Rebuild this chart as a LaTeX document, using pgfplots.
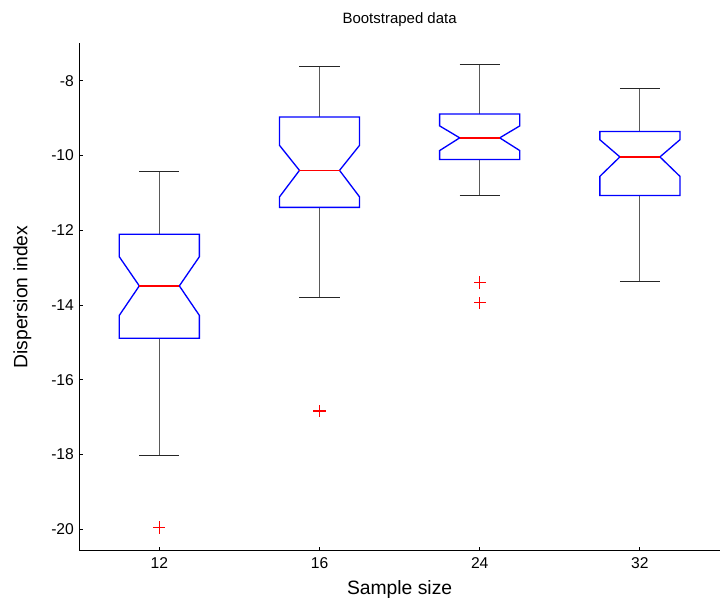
\documentclass[border=0pt]{standalone}
\usepackage{fontspec}
\setmainfont{Liberation Sans}
\usepackage{pgfplots}
\pgfplotsset{compat=1.18}
\definecolor{boxBlue}{RGB}{0,0,255}
\definecolor{medRed}{RGB}{255,0,0}
\begin{document}
\fontsize{9}{11}\selectfont
\begin{tikzpicture}
\begin{axis}[
    scale only axis,
    width=385pt, height=305pt,
    xmin=0.5, xmax=4.5,
    ymin=-20.58, ymax=-7.0,
    axis lines*=left,
    axis line style={black, line width=0.6pt},
    xtick={1,2,3,4},
    xticklabels={12,16,24,32},
    ytick={-20,-18,-16,-14,-12,-10,-8},
    tick align=inside,
    major tick length=2.5pt,
    tick style={black, line width=0.5pt},
    /pgf/number format/assume math mode=true,
    ticklabel style={font=\fontsize{9.4}{11}\selectfont},
    xticklabel style={yshift=-1pt},
    title={Bootstraped data},
    title style={font=\fontsize{9}{11}\selectfont, yshift=1pt},
    xlabel={Sample size},
    ylabel={Dispersion index},
    label style={font=\fontsize{11.6}{13}\selectfont},
    xlabel style={at={(axis description cs:0.5,-0.0753)}, anchor=center},
    ylabel style={at={(axis description cs:-0.0888,0.5)}, anchor=center, rotate=0},
    clip=false,
]
% whiskers
\addplot[black!65, line width=0.5pt] coordinates {(1,-12.11) (1,-10.44)};
\addplot[black!65, line width=0.5pt] coordinates {(1,-14.89) (1,-18.03)};
\addplot[black!65, line width=0.5pt] coordinates {(2,-8.97) (2,-7.61)};
\addplot[black!65, line width=0.5pt] coordinates {(2,-11.39) (2,-13.81)};
\addplot[black!65, line width=0.5pt] coordinates {(3,-8.89) (3,-7.57)};
\addplot[black!65, line width=0.5pt] coordinates {(3,-10.11) (3,-11.07)};
\addplot[black!65, line width=0.5pt] coordinates {(4,-9.36) (4,-8.21)};
\addplot[black!65, line width=0.5pt] coordinates {(4,-11.07) (4,-13.37)};
% caps
\addplot[black!85, line width=0.65pt] coordinates {(0.875,-10.44) (1.125,-10.44)};
\addplot[black!85, line width=0.65pt] coordinates {(0.875,-18.03) (1.125,-18.03)};
\addplot[black!85, line width=0.65pt] coordinates {(1.875,-7.61) (2.125,-7.61)};
\addplot[black!85, line width=0.65pt] coordinates {(1.875,-13.81) (2.125,-13.81)};
\addplot[black!85, line width=0.65pt] coordinates {(2.875,-7.57) (3.125,-7.57)};
\addplot[black!85, line width=0.65pt] coordinates {(2.875,-11.07) (3.125,-11.07)};
\addplot[black!85, line width=0.65pt] coordinates {(3.875,-8.21) (4.125,-8.21)};
\addplot[black!85, line width=0.65pt] coordinates {(3.875,-13.37) (4.125,-13.37)};
% notched boxes
\addplot[boxBlue, line width=0.8pt] coordinates {
    (0.75,-12.11) (1.25,-12.11) (1.25,-12.71) (1.125,-13.49) (1.25,-14.28)
    (1.25,-14.89) (0.75,-14.89) (0.75,-14.28) (0.875,-13.49) (0.75,-12.71) (0.75,-12.11)
} -- cycle;
\addplot[boxBlue, line width=0.8pt] coordinates {
    (1.75,-8.97) (2.25,-8.97) (2.25,-9.73) (2.125,-10.40) (2.25,-11.11)
    (2.25,-11.39) (1.75,-11.39) (1.75,-11.11) (1.875,-10.40) (1.75,-9.73) (1.75,-8.97)
} -- cycle;
\addplot[boxBlue, line width=0.8pt] coordinates {
    (2.75,-8.89) (3.25,-8.89) (3.25,-9.21) (3.125,-9.53) (3.25,-9.87)
    (3.25,-10.11) (2.75,-10.11) (2.75,-9.87) (2.875,-9.53) (2.75,-9.21) (2.75,-8.89)
} -- cycle;
\addplot[boxBlue, line width=0.8pt] coordinates {
    (3.75,-9.36) (4.25,-9.36) (4.25,-9.58) (4.125,-10.04) (4.25,-10.56)
    (4.25,-11.07) (3.75,-11.07) (3.75,-10.56) (3.875,-10.04) (3.75,-9.58) (3.75,-9.36)
} -- cycle;
% medians
\addplot[medRed, line width=0.8pt] coordinates {(0.875,-13.49) (1.125,-13.49)};
\addplot[medRed, line width=0.8pt] coordinates {(1.875,-10.40) (2.125,-10.40)};
\addplot[medRed, line width=0.8pt] coordinates {(2.875,-9.53) (3.125,-9.53)};
\addplot[medRed, line width=0.8pt] coordinates {(3.875,-10.04) (4.125,-10.04)};
% outliers, drawn as red crosses
\addplot[draw=none, mark=none,
    error bars/.cd, x dir=both, y dir=both, x fixed=0.038, y fixed=0.165,
    error mark=none, error bar style={draw=medRed, line width=0.75pt, solid}]
    coordinates {(1,-19.95) (2,-16.84) (3,-13.40) (3,-13.94)};
\end{axis}
\pgfresetboundingbox
\useasboundingbox (-47.6pt,-29pt) rectangle (385.6pt,331pt);
\end{tikzpicture}
\end{document}
